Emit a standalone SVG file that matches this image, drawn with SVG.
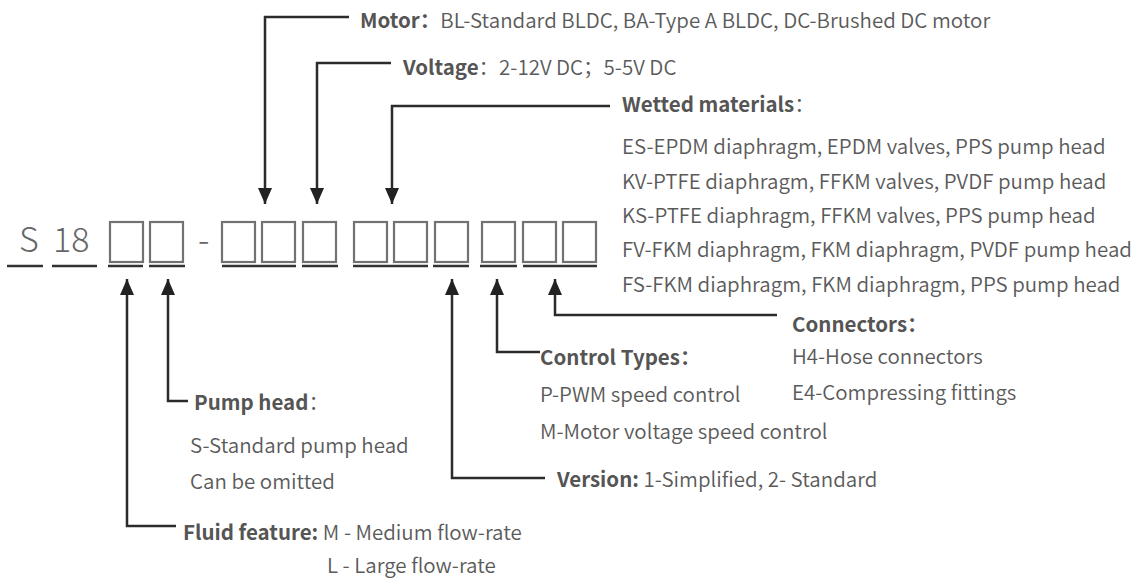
<svg xmlns="http://www.w3.org/2000/svg" width="1140" height="578" viewBox="0 0 1140 578">
<defs>
<style>
.t{font-family:"Noto Sans CJK SC","Noto Sans",sans-serif;font-size:20.5px;fill:#5a5a5a;font-weight:350}
.b{font-weight:700;fill:#555}
.code{font-family:"Noto Sans CJK SC","Noto Sans",sans-serif;font-size:34px;fill:#666;font-weight:300}
.box{fill:none;stroke:#727272;stroke-width:2.2}
.ul{stroke:#333;stroke-width:2.5;fill:none}
</style>
<marker id="a" markerUnits="userSpaceOnUse" markerWidth="16" markerHeight="14" viewBox="0 0 16 14" refX="16" refY="7" orient="auto">
<path d="M0,0 L16,7 L0,14Z" fill="#222"/>
</marker>
</defs>
<rect width="1140" height="578" fill="#fff"/>

<g id="code">
<text class="code" x="19" y="252">S</text>
<text class="code" x="53" y="252">18</text>
<text class="code" x="198" y="252">-</text>
<rect class="box" x="110" y="222" width="33" height="40"/>
<rect class="box" x="150" y="222" width="33" height="40"/>
<rect class="box" x="222" y="222" width="33" height="40"/>
<rect class="box" x="262" y="222" width="33" height="40"/>
<rect class="box" x="303" y="222" width="33" height="40"/>
<rect class="box" x="354" y="222" width="33" height="40"/>
<rect class="box" x="394" y="222" width="33" height="40"/>
<rect class="box" x="435" y="222" width="33" height="40"/>
<rect class="box" x="482" y="222" width="33" height="40"/>
<rect class="box" x="523" y="222" width="33" height="40"/>
<rect class="box" x="563" y="222" width="33" height="40"/>
<path class="ul" d="M7,266H43M52,266H97M108,266H143M149,266H185M222,266H296M302,266H338M353,266H428M433,266H469M480,266H517M523,266H597"/>
</g>

<g id="connectors" fill="none" stroke="#2b2b2b" stroke-width="2.5">
<path d="M349,17H265V204" marker-end="url(#a)"/>
<path d="M391,63H317V204" marker-end="url(#a)"/>
<path d="M610,106H392V204" marker-end="url(#a)"/>
<path d="M176,526H127V279" marker-end="url(#a)"/>
<path d="M188,401H168V279" marker-end="url(#a)"/>
<path d="M545,478H452V279" marker-end="url(#a)"/>
<path d="M540,352H497V279" marker-end="url(#a)"/>
<path d="M777,315H555V279" marker-end="url(#a)"/>
</g>

<g id="motor">
<text class="t" x="360" y="28"><tspan class="b">Motor：</tspan>BL-Standard BLDC, BA-Type A BLDC, DC-Brushed DC motor</text>
</g>
<g id="voltage">
<text class="t" x="403" y="75"><tspan class="b">Voltage</tspan>：2-12V DC；5-5V DC</text>
</g>
<g id="wetted">
<text class="t" x="622" y="112"><tspan class="b">Wetted materials</tspan>：</text>
<text class="t" x="622" y="154">ES-EPDM diaphragm, EPDM valves, PPS pump head</text>
<text class="t" x="622" y="189">KV-PTFE diaphragm, FFKM valves, PVDF pump head</text>
<text class="t" x="622" y="223">KS-PTFE diaphragm, FFKM valves, PPS pump head</text>
<text class="t" x="622" y="257">FV-FKM diaphragm, FKM diaphragm, PVDF pump head</text>
<text class="t" x="622" y="292">FS-FKM diaphragm, FKM diaphragm, PPS pump head</text>
</g>
<g id="connectors-desc">
<text class="t b" x="792" y="332">Connectors：</text>
<text class="t" x="792" y="364">H4-Hose connectors</text>
<text class="t" x="792" y="400">E4-Compressing fittings</text>
</g>
<g id="control">
<text class="t b" x="540" y="365">Control Types：</text>
<text class="t" x="540" y="402">P-PWM speed control</text>
<text class="t" x="540" y="439">M-Motor voltage speed control</text>
</g>
<g id="version">
<text class="t" x="557" y="487"><tspan class="b">Version:</tspan> 1-Simplified, 2- Standard</text>
</g>
<g id="pumphead">
<text class="t" x="194" y="410"><tspan class="b">Pump head</tspan>：</text>
<text class="t" x="190" y="453">S-Standard pump head</text>
<text class="t" x="190" y="489">Can be omitted</text>
</g>
<g id="fluid">
<text class="t" x="183" y="540"><tspan class="b">Fluid feature:</tspan> M - Medium flow-rate</text>
<text class="t" x="327" y="573">L - Large flow-rate</text>
</g>
</svg>
